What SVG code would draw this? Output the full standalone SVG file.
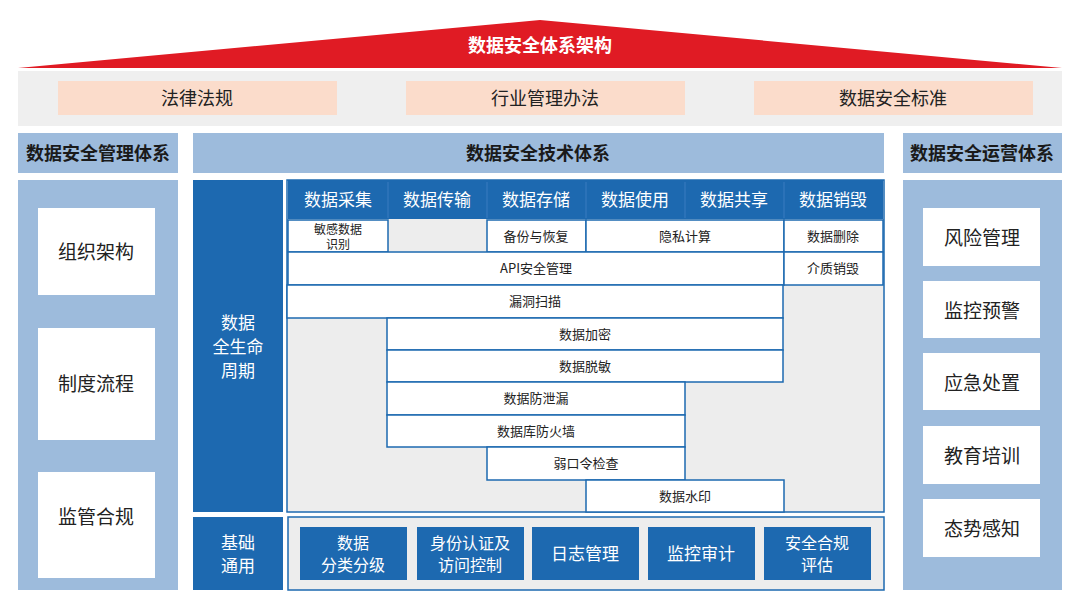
<svg xmlns="http://www.w3.org/2000/svg" width="1080" height="605" viewBox="0 0 1080 605">
<style>
text{font-family:"Noto Sans CJK SC","Liberation Sans",sans-serif;text-anchor:middle;dominant-baseline:central}
.hd{fill:#9dbbdc}.hdt{font-size:18px;font-weight:bold;fill:#1a1a1a}
.colbg{fill:#9dbbdc}
.wb{fill:#fff}
.wbt{font-size:19px;fill:#222}
.blue{fill:#1d69b0}
.bt{fill:#fff;font-size:17px}
.bt2{fill:#fff;font-size:16px}
.cell{fill:#fff;stroke:#1d69b0;stroke-width:1.5}
.ct{font-size:13px;fill:#222}
.ct2{font-size:12px;fill:#222}
.peach{fill:#fbdccb}
.pt{font-size:18px;fill:#222}
</style>
<rect width="1080" height="605" fill="#fff"/>
<g id="roof"><polygon points="18,68 540,20 1062,68" fill="#e01b24"/><text x="540" y="44" fill="#fff" font-size="18" font-weight="bold">数据安全体系架构</text></g>
<g id="laws">
<rect x="18" y="71" width="1044" height="55" fill="#efefef"/>
<rect class="peach" x="58" y="81" width="279" height="34"/><text class="pt" x="197" y="97">法律法规</text>
<rect class="peach" x="406" y="81" width="279" height="34"/><text class="pt" x="545" y="97">行业管理办法</text>
<rect class="peach" x="754" y="81" width="279" height="34"/><text class="pt" x="893" y="97">数据安全标准</text>
</g>
<g id="mgmt">
<rect class="hd" x="18" y="133" width="160" height="40"/><text class="hdt" x="98" y="152">数据安全管理体系</text>
<rect class="colbg" x="18" y="180" width="160" height="410"/>
<rect class="wb" x="38" y="208" width="117" height="87"/><text class="wbt" x="96" y="250">组织架构</text>
<rect class="wb" x="38" y="328" width="117" height="112"/><text class="wbt" x="96" y="382">制度流程</text>
<rect class="wb" x="38" y="472" width="117" height="106"/><text class="wbt" x="96" y="515">监管合规</text>
</g>
<g id="ops">
<rect class="hd" x="903" y="133" width="159" height="40"/><text class="hdt" x="982" y="152">数据安全运营体系</text>
<rect class="colbg" x="903" y="180" width="159" height="410"/>
<rect class="wb" x="923" y="208" width="117" height="58"/><text class="wbt" x="982" y="236">风险管理</text>
<rect class="wb" x="923" y="281" width="117" height="57"/><text class="wbt" x="982" y="309">监控预警</text>
<rect class="wb" x="923" y="353" width="117" height="57"/><text class="wbt" x="982" y="381">应急处置</text>
<rect class="wb" x="923" y="426" width="117" height="58"/><text class="wbt" x="982" y="454">教育培训</text>
<rect class="wb" x="923" y="499" width="117" height="58"/><text class="wbt" x="982" y="527">态势感知</text>
</g>
<g id="tech">
<rect class="hd" x="193" y="133" width="691" height="40"/><text class="hdt" x="538" y="152">数据安全技术体系</text>
<rect class="blue" x="193" y="180" width="90" height="332"/>
<text class="bt" x="238" y="321">数据</text><text class="bt" x="238" y="345">全生命</text><text class="bt" x="238" y="369">周期</text>
<rect x="287" y="180" width="597" height="332" fill="#ededed" stroke="#1d69b0" stroke-width="1.5"/>
<rect class="blue" x="288" y="180" width="595" height="39"/>
<text class="bt" x="338" y="198">数据采集</text><text class="bt" x="437" y="198">数据传输</text><text class="bt" x="536" y="198">数据存储</text><text class="bt" x="635" y="198">数据使用</text><text class="bt" x="734" y="198">数据共享</text><text class="bt" x="833" y="198">数据销毁</text>
<g stroke="#3b7cc0" stroke-width="1"><line x1="388" y1="182" x2="388" y2="218"/><line x1="487" y1="182" x2="487" y2="218"/><line x1="586" y1="182" x2="586" y2="218"/><line x1="685" y1="182" x2="685" y2="218"/><line x1="784" y1="182" x2="784" y2="218"/></g>
<rect class="cell" x="288" y="220" width="100" height="32"/><text class="ct2" x="338" y="228">敏感数据</text><text class="ct2" x="338" y="243">识别</text>
<rect class="cell" x="487" y="220" width="99" height="32"/><text class="ct" x="536" y="235">备份与恢复</text>
<rect class="cell" x="586" y="220" width="198" height="32"/><text class="ct" x="685" y="235">隐私计算</text>
<rect class="cell" x="784" y="220" width="99" height="32"/><text class="ct" x="833" y="235">数据删除</text>
<rect class="cell" x="288" y="252" width="496" height="33"/><text class="ct" x="536" y="267">API安全管理</text>
<rect class="cell" x="784" y="252" width="99" height="33"/><text class="ct" x="833" y="267">介质销毁</text>
<rect class="cell" x="287" y="285" width="496" height="33"/><text class="ct" x="535" y="300">漏洞扫描</text>
<rect class="cell" x="387" y="318" width="396" height="32"/><text class="ct" x="585" y="333">数据加密</text>
<rect class="cell" x="387" y="350" width="396" height="32"/><text class="ct" x="585" y="365">数据脱敏</text>
<rect class="cell" x="387" y="382" width="298" height="33"/><text class="ct" x="536" y="397">数据防泄漏</text>
<rect class="cell" x="387" y="415" width="298" height="32"/><text class="ct" x="536" y="430">数据库防火墙</text>
<rect class="cell" x="487" y="447" width="198" height="33"/><text class="ct" x="586" y="462">弱口令检查</text>
<rect class="cell" x="586" y="480" width="198" height="32"/><text class="ct" x="685" y="495">数据水印</text>
</g>
<g id="base">
<rect class="blue" x="193" y="517" width="90" height="73"/>
<text class="bt" x="238" y="541">基础</text><text class="bt" x="238" y="564">通用</text>
<rect x="288" y="517" width="596" height="73" fill="#ededed" stroke="#1d69b0" stroke-width="1.5"/>
<rect class="blue" x="300" y="527" width="107" height="53"/><text class="bt2" x="353" y="542">数据</text><text class="bt2" x="353" y="564">分类分级</text>
<rect class="blue" x="417" y="527" width="107" height="53"/><text class="bt2" x="470" y="542">身份认证及</text><text class="bt2" x="470" y="564">访问控制</text>
<rect class="blue" x="532" y="527" width="107" height="53"/><text class="bt" x="585" y="552">日志管理</text>
<rect class="blue" x="648" y="527" width="107" height="53"/><text class="bt" x="701" y="552">监控审计</text>
<rect class="blue" x="764" y="527" width="107" height="53"/><text class="bt2" x="817" y="542">安全合规</text><text class="bt2" x="817" y="564">评估</text>
</g>
<g id="connectors"/>
</svg>
